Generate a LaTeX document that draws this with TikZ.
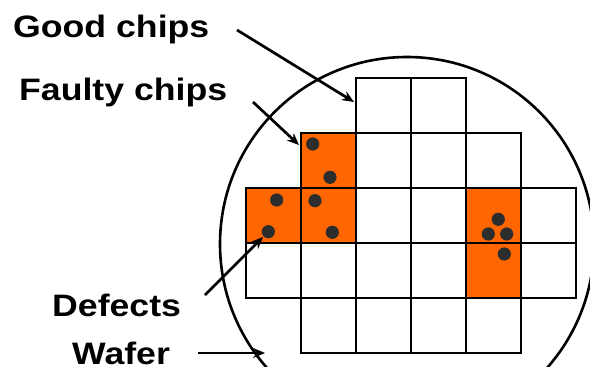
\documentclass[tikz,border=0pt]{standalone}
\usepackage{fontspec}
\setmainfont{Liberation Sans}
\usetikzlibrary{arrows.meta,positioning}

\definecolor{faulty}{RGB}{255,102,0}
\definecolor{defect}{RGB}{45,45,45}

\tikzset{
  lbl/.style={anchor=base west, inner sep=0pt, font=\fontsize{31}{36}\selectfont\bfseries},
  chip/.style={draw, line width=2.8pt, minimum size=55pt, inner sep=0pt},
  pointer/.style={line width=2.7pt, -{Stealth[length=12pt,width=10pt]}},
}

\begin{document}
\begin{tikzpicture}[x=1pt,y=-1pt]
      \useasboundingbox (0,0) rectangle (590,367);
      \clip (0,0) rectangle (590,367);

      % wafer
      \draw[line width=2.6pt] (407,244) circle[radius=187];

      % good chips, row / columns
      \foreach \r/\cols in {0/{2,3}, 1/{2,3,4}, 2/{2,3,5}, 3/{0,1,2,3,5}, 4/{1,2,3,4}}
        \foreach \c in \cols
          \node[chip] (chip-\r-\c) at (273.5+55*\c, 105.5+55*\r) {} ;

      % faulty chips
      \foreach \r/\c in {1/1, 2/0, 2/1, 2/4, 3/4}
        \node[chip, fill=faulty] (chip-\r-\c) at (273.5+55*\c, 105.5+55*\r) {} ;

      % defects
      \foreach \p in {(312.7,144), (330,177.3), (276.7,200), (315,200.7),
                      (268.3,231.7), (332.3,232.3), (498.3,219.3),
                      (488.3,234), (506.7,234), (504.3,254)}
        \fill[defect] \p circle[radius=6.6] ;

      \node[lbl] (good) at (13,37) {\scalebox{1.15}[1]{Good chips}} ;
      \node[lbl] (faultylbl) at (19,100.5) {\scalebox{1.15}[1]{Faulty chips}} ;
      \node[lbl] (defects) at (52,316) {\scalebox{1.15}[1]{Defects}} ;
      \node[lbl] (wafer) at (72,364) {\scalebox{1.15}[1]{Wafer}} ;

      \coordinate (good-from) at (237,30) ;
      \coordinate (good-to) at (354,102) ;
      \coordinate (faulty-from) at (253,102) ;
      \coordinate (faulty-to) at (299,145) ;
      \coordinate (defects-from) at (205,295) ;
      \coordinate (defects-to) at (263,237) ;
      \coordinate (wafer-from) at (198,353) ;
      \coordinate (wafer-to) at (265,353) ;

      \path[pointer]
      (good-from) edge (good-to)
      (faulty-from) edge (faulty-to)
      (defects-from) edge (defects-to)
      (wafer-from) edge (wafer-to)
      ;

    \end{tikzpicture}
\end{document}
